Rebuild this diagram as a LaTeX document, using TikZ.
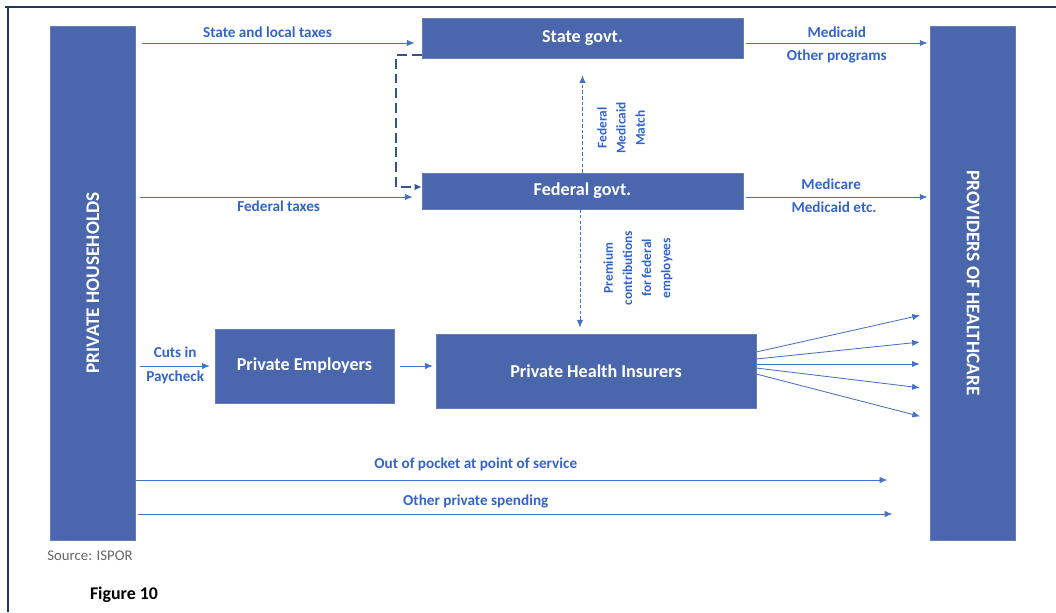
\documentclass[tikz,border=0pt]{standalone}
\usepackage{fontspec}
\setmainfont{Carlito}
\usetikzlibrary{arrows.meta}
\definecolor{boxblue}{RGB}{74,103,173}
\definecolor{flowblue}{RGB}{68,114,196}
\definecolor{textblue}{RGB}{50,100,204}
\definecolor{linkblue}{RGB}{47,85,151}
\definecolor{framenavy}{RGB}{31,56,100}
\begin{document}
\begin{tikzpicture}
    [
    x=0.025cm,y=-0.025cm,
    box/.style={rectangle,fill=boxblue,draw=boxblue!85!white,text=white,inner sep=0pt,
      font=\bfseries\fontsize{12.9}{14}\selectfont},
    bigbox/.style={box,minimum width=2.12cm,minimum height=12.85cm,
      font=\bfseries\fontsize{13.7}{15}\selectfont},
    flow/.style={draw=flowblue,line width=0.6pt,-{Latex[length=5.5pt,width=4.5pt]}},
    dashlink/.style={draw=linkblue,line width=0.8pt,dash pattern=on 7pt off 3.5pt},
    dotflow/.style={flow,dash pattern=on 2.5pt off 1.5pt},
    lbl/.style={text=textblue,inner sep=1pt,font=\bfseries\fontsize{10.8}{12}\selectfont},
    vlbl/.style={lbl,rotate=90,align=center,font=\bfseries\fontsize{9.5}{13.6}\selectfont}
    ]
    \useasboundingbox (0,0) rectangle (1056,612);
    % frame
    \draw [framenavy,line width=1.6pt] (5,7) -- (1056,7);
    \draw [framenavy,line width=1.6pt] (8,7) -- (8,612);
    % boxes
    \node (households) at (93,283) [bigbox] {\rotatebox{90}{PRIVATE HOUSEHOLDS}};
    \node (providers) at (973,283) [bigbox] {\rotatebox{-90}{PROVIDERS OF HEALTHCARE}};
    \node (state) at (582.5,38) [box,minimum width=8.025cm,minimum height=1cm] {State govt.};
    \node (federal) at (582.5,191) [box,minimum width=8.025cm,minimum height=0.9cm] {Federal govt.};
    \node (employers) at (304.5,366) [box,minimum width=4.475cm,minimum height=1.85cm] {Private Employers};
    \node (insurers) at (596,371) [box,minimum width=8cm,minimum height=1.85cm] {Private Health Insurers};
    % taxes
    \draw [flow,shorten <=4.3pt,shorten >=5pt] (households.east |- 0,43) -- (state.west |- 0,43)
      node [lbl,midway,above=2.5pt,xshift=-8pt] {State and local taxes};
    \draw [flow,shorten <=3pt,shorten >=6.4pt] (households.east |- 0,197) -- (federal.west |- 0,197)
      node [lbl,midway,below=1.5pt] {Federal taxes};
    % public programs
    \draw [flow,shorten <=2pt,shorten >=2pt] (state.east |- 0,43) -- (providers.west |- 0,43)
      node [lbl,midway,above=2.5pt] {Medicaid}
      node [lbl,midway,below=3.5pt] {Other programs};
    \draw [flow,shorten <=2pt,shorten >=2pt] (federal.east |- 0,197) -- (providers.west |- 0,197)
      node [lbl,midway,above=4pt,xshift=-4pt] {Medicare}
      node [lbl,midway,below=2pt,xshift=-2pt] {Medicaid etc.};
    % state and federal links
    \draw [dashlink,-{Latex[length=5pt,width=4.5pt]}] (state.west |- 0,55) -- (396,55) -- (396,187) -- (federal.west |- 0,187);
    \draw [dotflow,shorten >=12pt] (federal.north) -- (state.south);
    \node (matchlbl) at (621,128) [vlbl] {Federal\\Medicaid\\Match};
    \draw [dotflow,shorten >=4.3pt] ([xshift=-1.8pt]federal.south) -- ([xshift=-1.8pt]insurers.north -| federal.south);
    \node (premiumlbl) at (638,268) [vlbl] {Premium\\contributions\\for federal\\employees};
    % private money
    \draw [flow,shorten <=3pt,shorten >=3.5pt] (households.east |- employers.west) -- (employers.west)
      node [lbl,midway,above=5pt] {Cuts in}
      node [lbl,midway,below=2pt] {Paycheck};
    \draw [flow,shorten <=4.3pt,shorten >=2pt] (employers.east) -- (employers.east -| insurers.west);
    \foreach \ys/\ye in {352/313,359/341,364/364,368/389,374/419}
      \draw [flow,shorten >=7.5pt] (insurers.east |- 0,\ys) -- (providers.west |- 0,\ye);
    \draw [flow,shorten >=30.6pt] (households.east |- 0,480) -- (providers.west |- 0,480)
      node [lbl,pos=0.428,above=5pt] {Out of pocket at point of service};
    \draw [flow,shorten <=1.4pt,shorten >=27pt] (households.east |- 0,514) -- (providers.west |- 0,514)
      node [lbl,pos=0.428,above=3pt] {Other private spending};
    % notes
    \node (source) at (90,556) [text=black!60,font=\fontsize{10.5}{12}\selectfont] {Source: ISPOR};
    \node (figure) at (124,595) [font=\bfseries\fontsize{12.7}{14}\selectfont] {Figure 10};
  \end{tikzpicture}
\end{document}
